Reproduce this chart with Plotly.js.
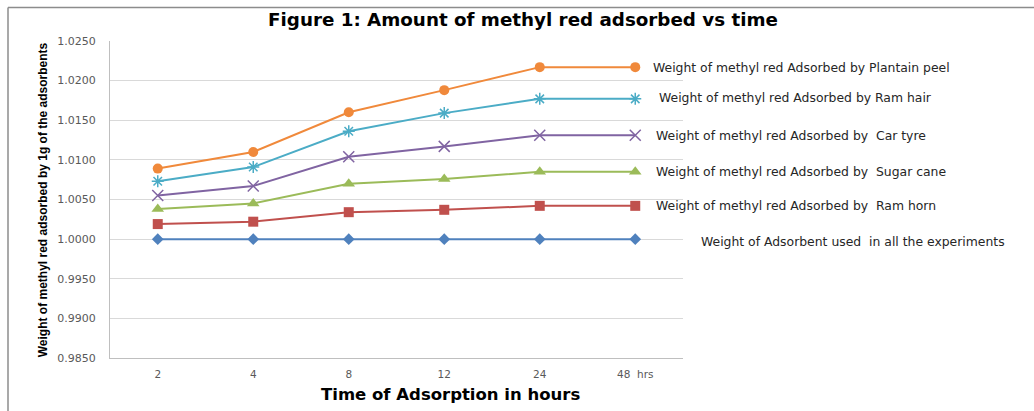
<!DOCTYPE html>
<html>
<head>
<meta charset="utf-8">
<script src="https://cdn.plot.ly/plotly-3.0.1.min.js"></script>
<style>html,body{margin:0;padding:0;background:#fff;}#chart{width:1034px;height:411px;}</style>
</head>
<body>
<div id="chart"></div>
<script>
const times = ['2', '4', '8', '12', '24', '48\u00a0 hrs'];
const adsorbent = [1.0000, 1.0000, 1.0000, 1.0000, 1.0000, 1.0000];
const ramHorn = [1.0019, 1.0022, 1.0034, 1.0037, 1.0042, 1.0042];
const sugarCane = [1.0038, 1.0045, 1.0070, 1.0076, 1.0085, 1.0085];
const carTyre = [1.0055, 1.0067, 1.0104, 1.0117, 1.0131, 1.0131];
const ramHair = [1.0073, 1.0091, 1.0136, 1.0159, 1.0177, 1.0177];
const plantain = [1.0089, 1.0110, 1.0160, 1.0188, 1.0217, 1.0217];
const seriesNames = [
  'Weight of Adsorbent used\u00a0 in all the experiments',
  'Weight of methyl red Adsorbed by\u00a0 Ram horn',
  'Weight of methyl red Adsorbed by\u00a0 Sugar cane',
  'Weight of methyl red Adsorbed by\u00a0 Car tyre',
  'Weight of methyl red Adsorbed by Ram hair',
  'Weight of methyl red Adsorbed by Plantain peel'
];
const yTitle = 'Weight of methyl red adsorbed by 1g of the adsorbents';
const xTitle = 'Time of Adsorption in hours';

const seriesData = [adsorbent, ramHorn, sugarCane, carTyre, ramHair, plantain];
const colors = ['#4F81BD', '#C0504D', '#9BBB59', '#8064A2', '#4BACC6', '#F0893B'];
const symbols = ['diamond', 'square', 'triangle-up', 'x-thin-open', 'asterisk-open', 'circle'];
const sizes = [9, 10, 11, 11, 10, 10];
const labelX = [699, 654, 654, 654, 657, 651];
const labelShift = [-2, 0, 0, 0, 1, 0];

const plotL = 110, plotR = 683;
const traces = seriesData.map((d, i) => ({
  x: times, y: d, type: 'scatter', mode: 'lines+markers', name: seriesNames[i],
  line: {color: colors[i], width: 2},
  marker: {symbol: symbols[i], size: sizes[i], color: colors[i], line: {color: colors[i], width: (symbols[i].indexOf('open') >= 0 ? 1.5 : 0)}},
  hoverinfo: 'x+y'
}));

const annotations = seriesData.map((d, i) => ({
  xref: 'paper', yref: 'y', x: (labelX[i] - plotL) / (plotR - plotL), y: d[d.length - 1],
  xanchor: 'left', yanchor: 'middle', yshift: labelShift[i], showarrow: false,
  text: seriesNames[i], font: {family: 'DejaVu Sans, Verdana, sans-serif', size: 12.4, color: '#262626'}
}));
annotations.push({
  xref: 'paper', yref: 'paper', x: (450 - plotL) / (plotR - plotL), y: -(395 - 358) / (358 - 40.5),
  xanchor: 'center', yanchor: 'middle', showarrow: false,
  text: '<b>' + xTitle + '</b>',
  font: {family: 'DejaVu Sans, Verdana, sans-serif', size: 16.5, color: '#000'}
});
annotations.push({
  xref: 'paper', yref: 'paper', x: -(plotL - 43) / (plotR - plotL), y: (358 - 200) / (358 - 40.5),
  xanchor: 'center', yanchor: 'middle', showarrow: false, textangle: -90,
  text: '<b>' + yTitle + '</b>',
  font: {family: 'Liberation Sans, Arial, sans-serif', size: 12, color: '#000'}
});

const layout = {
  width: 1034, height: 411,
  margin: {l: plotL, r: 1034 - plotR, t: 40.5, b: 53, pad: 0},
  paper_bgcolor: '#fff', plot_bgcolor: '#fff',
  showlegend: false,
  title: {text: '<b>Figure 1: Amount of methyl red adsorbed vs time</b>', xref: 'container', yref: 'container',
    x: 523 / 1034, y: 1 - 20 / 411, xanchor: 'center', yanchor: 'middle',
    font: {family: 'DejaVu Sans, Verdana, sans-serif', size: 18.3, color: '#000'}},
  xaxis: {type: 'category', range: [-0.5, 5.5], showgrid: false, showline: true, linecolor: '#bfbfbf', linewidth: 1,
    ticks: '', ticklabelstandoff: 6, tickfont: {family: 'DejaVu Sans, Verdana, sans-serif', size: 10.5, color: '#595959'},
    fixedrange: true},
  yaxis: {range: [0.985, 1.025], dtick: 0.005, tick0: 0.985, tickformat: '.4f', showgrid: true, gridcolor: '#d9d9d9', gridwidth: 1,
    zeroline: false, showline: true, linecolor: '#bfbfbf', linewidth: 1, ticks: '', ticklabelstandoff: 11,
    tickfont: {family: 'DejaVu Sans, Verdana, sans-serif', size: 11, color: '#595959'}, fixedrange: true},
  annotations: annotations,
  shapes: [
    {type: 'line', xref: 'paper', yref: 'paper', x0: -(plotL - 8) / (plotR - plotL), x1: (1034 - plotL) / (plotR - plotL), y0: (358 - 7) / (358 - 40.5), y1: (358 - 7) / (358 - 40.5), line: {color: '#8c8c8c', width: 1.5}},
    {type: 'line', xref: 'paper', yref: 'paper', x0: -(plotL - 8) / (plotR - plotL), x1: -(plotL - 8) / (plotR - plotL), y0: (358 - 7) / (358 - 40.5), y1: -(411 - 358) / (358 - 40.5), line: {color: '#8c8c8c', width: 1.5}}
  ]
};

Plotly.newPlot('chart', traces, layout, {displayModeBar: false, staticPlot: true});
</script>
</body>
</html>
